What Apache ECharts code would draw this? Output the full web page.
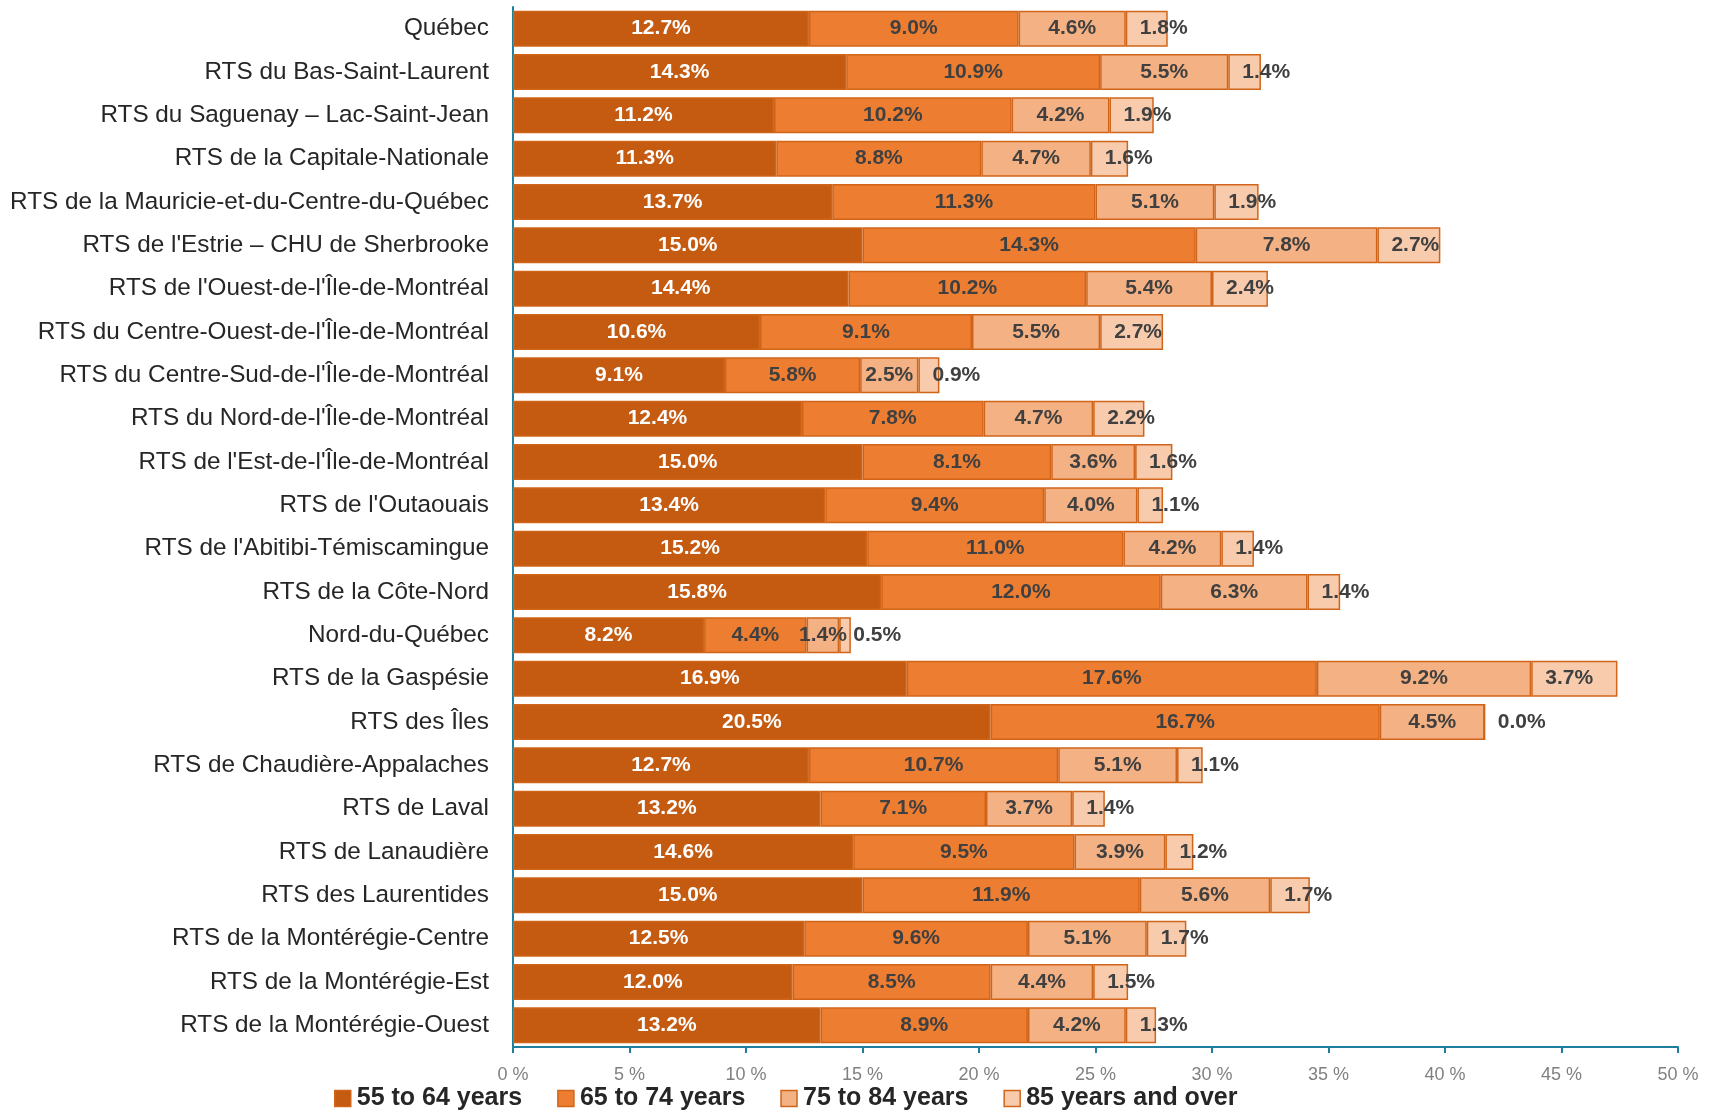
<!DOCTYPE html>
<html>
<head>
<meta charset="utf-8">
<script src="https://cdn.jsdelivr.net/npm/echarts@6/dist/echarts.min.js"></script>
<style>
html,body{margin:0;padding:0;background:#fff;}
#chart{width:1711px;height:1116px;}
</style>
</head>
<body>
<div id="chart"></div>
<script>
const categories = [
  "Québec",
  "RTS du Bas-Saint-Laurent",
  "RTS du Saguenay – Lac-Saint-Jean",
  "RTS de la Capitale-Nationale",
  "RTS de la Mauricie-et-du-Centre-du-Québec",
  "RTS de l'Estrie – CHU de Sherbrooke",
  "RTS de l'Ouest-de-l'Île-de-Montréal",
  "RTS du Centre-Ouest-de-l'Île-de-Montréal",
  "RTS du Centre-Sud-de-l'Île-de-Montréal",
  "RTS du Nord-de-l'Île-de-Montréal",
  "RTS de l'Est-de-l'Île-de-Montréal",
  "RTS de l'Outaouais",
  "RTS de l'Abitibi-Témiscamingue",
  "RTS de la Côte-Nord",
  "Nord-du-Québec",
  "RTS de la Gaspésie",
  "RTS des Îles",
  "RTS de Chaudière-Appalaches",
  "RTS de Laval",
  "RTS de Lanaudière",
  "RTS des Laurentides",
  "RTS de la Montérégie-Centre",
  "RTS de la Montérégie-Est",
  "RTS de la Montérégie-Ouest"
];
const age55to64 = [12.7,14.3,11.2,11.3,13.7,15.0,14.4,10.6,9.1,12.4,15.0,13.4,15.2,15.8,8.2,16.9,20.5,12.7,13.2,14.6,15.0,12.5,12.0,13.2];
const age65to74 = [9.0,10.9,10.2,8.8,11.3,14.3,10.2,9.1,5.8,7.8,8.1,9.4,11.0,12.0,4.4,17.6,16.7,10.7,7.1,9.5,11.9,9.6,8.5,8.9];
const age75to84 = [4.6,5.5,4.2,4.7,5.1,7.8,5.4,5.5,2.5,4.7,3.6,4.0,4.2,6.3,1.4,9.2,4.5,5.1,3.7,3.9,5.6,5.1,4.4,4.2];
const age85plus = [1.8,1.4,1.9,1.6,1.9,2.7,2.4,2.7,0.9,2.2,1.6,1.1,1.4,1.4,0.5,3.7,0.0,1.1,1.4,1.2,1.7,1.7,1.5,1.3];
const seriesNames = ["55 to 64 years","65 to 74 years","75 to 84 years","85 years and over"];
const xTicks = {min:0, max:50, interval:5};

const colors = ["#C55A11","#ED7D31","#F4B183","#F8CBAD"];
const border = "#D0651A";
const font = "Liberation Sans";
const fmt = p => p.value.toFixed(1) + "%";

function mk(name, data, color, labelColor, pos, dist){
  return {
    name: name, type: "bar", stack: "total", data: data,
    barCategoryGap: "17%",
    itemStyle: {color: color, borderColor: border, borderWidth: 1.5},
    label: {show: true, position: pos, distance: dist, formatter: fmt,
      color: labelColor, fontFamily: font, fontWeight: "bold", fontSize: 21},
    emphasis: {disabled: true}
  };
}

const chart = echarts.init(document.getElementById("chart"));
chart.setOption({
  animation: false,
  backgroundColor: "#fff",
  grid: {left: 513, right: 33, top: 7, bottom: 69, containLabel: false},
  legend: {
    left: 329, bottom: 0, itemWidth: 16, itemHeight: 16, itemGap: 35,
    icon: "rect",
    textStyle: {fontFamily: font, fontWeight: "bold", fontSize: 25, color: "#262626", padding:[0,0,0,1]},
    data: seriesNames.map((n,i)=>({name:n, itemStyle:{color:colors[i], borderColor:border, borderWidth:1.5}}))
  },
  xAxis: {
    type: "value", min: xTicks.min, max: xTicks.max, interval: xTicks.interval,
    axisLine: {show: true, lineStyle: {color: "#1F7E9E", width: 2}},
    axisTick: {show: true, length: 6, lineStyle: {color: "#1F7E9E", width: 2}},
    splitLine: {show: false},
    axisLabel: {formatter: "{value} %", color: "#808080", fontFamily: font, fontSize: 18, margin: 19}
  },
  yAxis: {
    type: "category", data: categories, inverse: true,
    axisLine: {show: true, lineStyle: {color: "#1F7E9E", width: 2}},
    axisTick: {show: false},
    axisLabel: {color: "#262626", fontFamily: font, fontSize: 24.3, margin: 24}
  },
  series: [
    mk(seriesNames[0], age55to64, colors[0], "#ffffff", "inside", 5),
    mk(seriesNames[1], age65to74, colors[1], "#404040", "inside", 5),
    mk(seriesNames[2], age75to84, colors[2], "#404040", "inside", 5),
    mk(seriesNames[3], age85plus, colors[3], "#404040", "insideLeft", 14)
  ]
});
</script>
</body>
</html>
